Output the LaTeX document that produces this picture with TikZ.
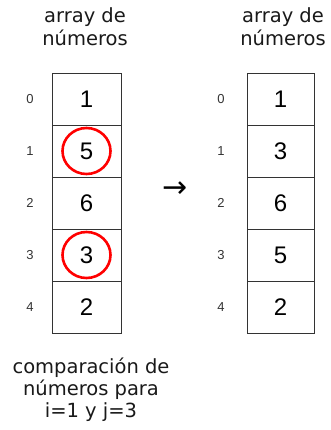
\documentclass[tikz,border=0pt]{standalone}
\usepackage{fontspec}
\setmainfont{DejaVu Sans}
\newfontfamily\cellfont{Liberation Sans}
\begin{document}
\begin{tikzpicture}[x=1pt,y=-1pt,
  cell/.style={draw=black!80,line width=0.8pt,minimum width=69pt,minimum height=52pt,inner sep=0pt,font=\cellfont\fontsize{24}{24}\selectfont},
  idx/.style={font=\cellfont\fontsize{13}{13}\selectfont,text=black!80},
  head/.style={align=center,font=\fontsize{19.5}{23}\selectfont,text=black!90}]
\useasboundingbox (0,0) rectangle (331,430);
\foreach \v [count=\i from 0] in {1,5,6,3,2}{
  \node[cell] (L\i) at (86.5,{99+52*\i}) {\v};
  \node[idx] (li\i) at (30,{99+52*\i}) {\i};
}
\foreach \v [count=\i from 0] in {1,3,6,5,2}{
  \node[cell,minimum width=67pt] (R\i) at (280.5,{99+52*\i}) {\v};
  \node[idx] (ri\i) at (221,{99+52*\i}) {\i};
}
\node[head] (hl) at (85,27) {array de\\ números};
\node[head] (hr) at (283,27) {array de\\ números};
\node[font=\fontsize{30}{30}\selectfont] (ar) at (175,190) {→};
\node[head,font=\fontsize{19.5}{22}\selectfont] (cap) at (91,390) {comparación de\\ números para\\ i=1 y j=3};
\draw[red,line width=2.6pt] (L1.center) ellipse (24pt and 23pt);
\draw[red,line width=2.6pt] (L3.center) ellipse (24pt and 23pt);
\end{tikzpicture}
\end{document}
